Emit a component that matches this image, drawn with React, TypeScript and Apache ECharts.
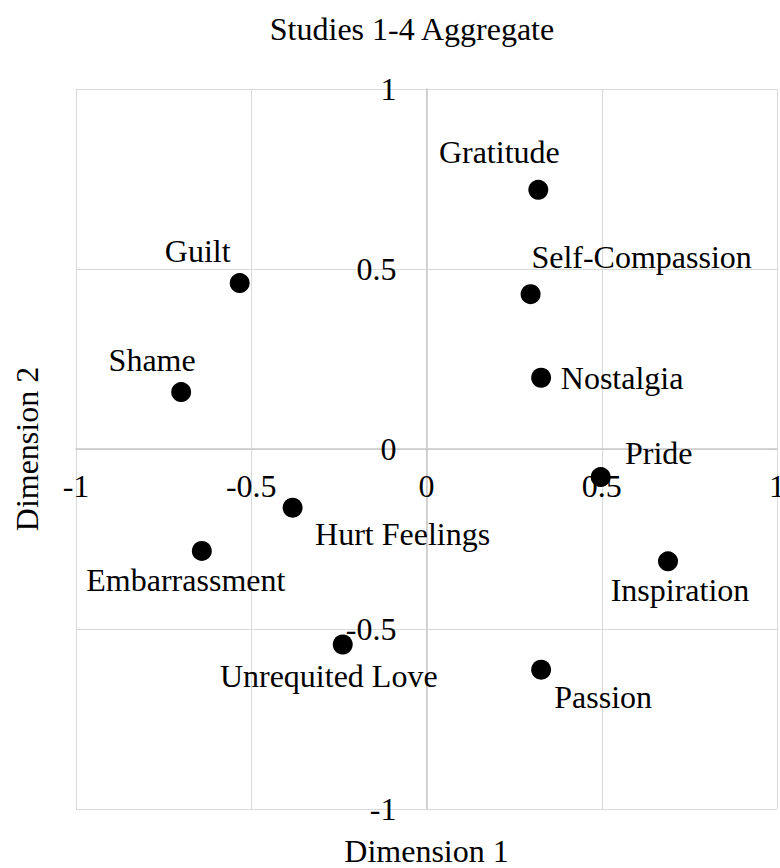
import React, { useEffect, useRef } from "react";
import * as echarts from "echarts";

const emotions = [
  "Gratitude",
  "Self-Compassion",
  "Nostalgia",
  "Pride",
  "Inspiration",
  "Passion",
  "Guilt",
  "Shame",
  "Hurt Feelings",
  "Embarrassment",
  "Unrequited Love",
];
const dimension1 = [0.319, 0.297, 0.327, 0.497, 0.689, 0.327, -0.533, -0.7, -0.382, -0.641, -0.239];
const dimension2 = [0.72, 0.43, 0.198, -0.078, -0.312, -0.613, 0.461, 0.158, -0.163, -0.283, -0.543];
const axisTicks = [-1, -0.5, 0, 0.5, 1];

// label placement (pixel offsets of label centre from the marker centre)
const labelOffsets: [number, number][] = [
  [-39, -38],
  [111, -37],
  [81, 0],
  [58, -24],
  [12, 29],
  [62, 27],
  [-42, -32],
  [-29, -32],
  [110, 26],
  [-16, 29],
  [-14, 32],
];

const FONT = "'Liberation Serif', 'Times New Roman', serif";
const FS = 32;
const GRID = { left: 76, right: 3, top: 89, bottom: 59 };
const W = 780;
const H = 868;

export default function App() {
  const ref = useRef<HTMLDivElement>(null);
  useEffect(() => {
    if (!ref.current) return;
    const chart = echarts.init(ref.current, undefined, { renderer: "svg" });
    const data = emotions.map((name, i) => ({
      name,
      value: [dimension1[i], dimension2[i]],
      label: { offset: labelOffsets[i] },
    }));
    const gridW = W - GRID.left - GRID.right;
    const gridH = H - GRID.top - GRID.bottom;
    const axisCommon = {
      type: "value" as const,
      min: axisTicks[0],
      max: axisTicks[axisTicks.length - 1],
      interval: 0.5,
      axisTick: { show: false },
      axisLine: { show: true, onZero: false, lineStyle: { color: "#c8c8c8", width: 1.5 } },
      splitLine: { show: true, lineStyle: { color: "#d9d9d9", width: 1 } },
      nameLocation: "middle" as const,
      nameTextStyle: { fontFamily: FONT, fontSize: FS, color: "#000" },
    };
    chart.setOption({
      animation: false,
      backgroundColor: "#fff",
      title: {
        text: "Studies 1-4 Aggregate",
        left: 407,
        textAlign: "center",
        top: 8,
        textStyle: { fontFamily: FONT, fontSize: FS, fontWeight: "normal", color: "#000" },
      },
      grid: { ...GRID, containLabel: false, outerBoundsMode: "none" },
      xAxis: {
        ...axisCommon,
        position: "bottom",
        offset: -gridH / 2,
        name: "Dimension 1",
        nameGap: 386,
        axisLabel: { margin: 21, fontFamily: FONT, fontSize: FS, color: "#000" },
      },
      yAxis: {
        ...axisCommon,
        position: "left",
        offset: -gridW / 2,
        name: "Dimension 2",
        nameGap: 384,
        axisLabel: { margin: 30, fontFamily: FONT, fontSize: FS, color: "#000" },
      },
      series: [
        {
          type: "scatter",
          symbol: "circle",
          symbolSize: 20,
          itemStyle: { color: "#000", opacity: 1 },
          label: {
            show: true,
            position: "inside",
            align: "center",
            verticalAlign: "middle",
            formatter: "{b}",
            fontFamily: FONT,
            fontSize: FS,
            color: "#000",
            opacity: 1,
          },
          data,
        },
      ],
    });
    return () => chart.dispose();
  }, []);
  return (
    <div
      ref={ref}
      style={{ position: "fixed", left: 0, top: 0, width: W, height: H, background: "#fff" }}
    />
  );
}
